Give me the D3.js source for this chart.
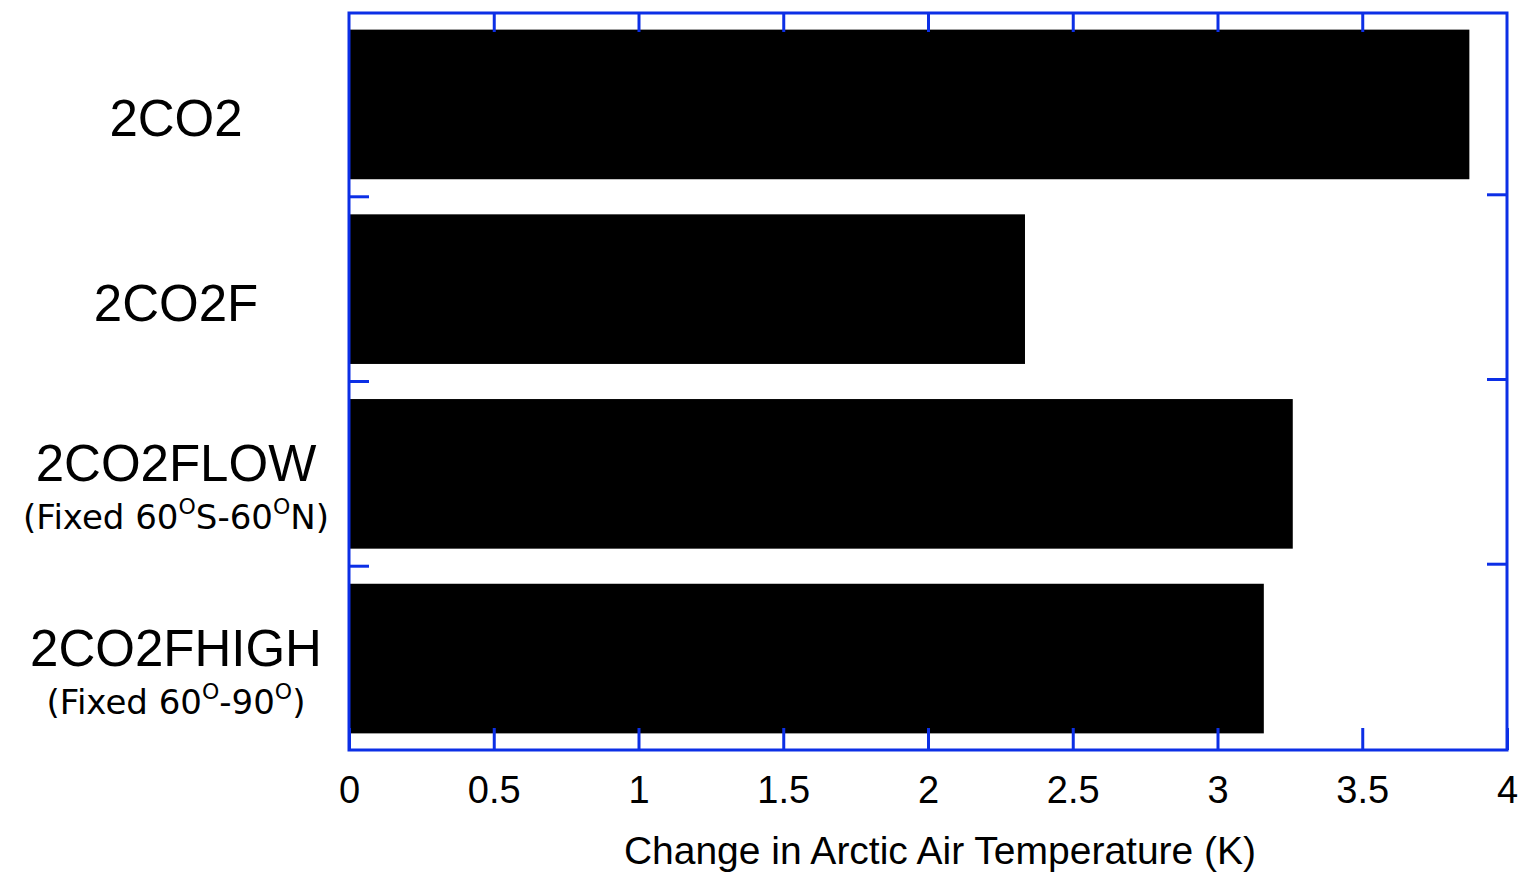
<!DOCTYPE html>
<html>
<head>
<meta charset="utf-8">
<script src="https://cdn.jsdelivr.net/npm/d3@7"></script>
<style>
  body { margin: 0; background: #fff; }
  svg { display: block; }
</style>
</head>
<body>
<script>
// ----- data -----
const categories = ['2CO2', '2CO2F', '2CO2FLOW', '2CO2FHIGH'];
const values = [3.87, 2.335, 3.26, 3.16];
// sub labels: alternating normal / superscript pieces
const subLabels = [
  null,
  null,
  ['(Fixed 60', 'O', 'S-60', 'O', 'N)'],
  ['(Fixed 60', 'O', '-90', 'O', ')']
];
const xTicks = [0, 0.5, 1, 1.5, 2, 2.5, 3, 3.5, 4];
const xTitle = 'Change in Arctic Air Temperature (K)';

const blue = '#0c2fe6';
const W = 1526, H = 874;
const plotLeft = 349, plotRight = 1507, plotTop = 13, plotBottom = 750;

const svg = d3.select('body')
  .append('svg')
  .attr('width', W)
  .attr('height', H);

// scales
const x = d3.scaleLinear().domain([0, 4]).range([plotLeft, plotRight]);
const y = d3.scaleBand()
  .domain(categories)
  .range([plotTop, plotBottom])
  .paddingInner(0.19)
  .paddingOuter(0.09);

// ----- bars -----
svg.selectAll('.bar')
  .data(categories)
  .join('rect')
  .attr('class', 'bar')
  .attr('x', x(0))
  .attr('y', d => y(d))
  .attr('width', (d, i) => x(values[i]) - x(0))
  .attr('height', y.bandwidth())
  .attr('fill', '#000');

// ----- frame -----
svg.append('rect')
  .attr('x', plotLeft)
  .attr('y', plotTop)
  .attr('width', plotRight - plotLeft)
  .attr('height', plotBottom - plotTop)
  .attr('fill', 'none')
  .attr('stroke', blue)
  .attr('stroke-width', 3);

// ----- bottom axis (ticks inward) -----
const xAxis = svg.append('g')
  .attr('transform', `translate(0, ${plotBottom})`)
  .call(d3.axisBottom(x).tickValues(xTicks).tickSize(-22).tickPadding(26)
    .tickFormat(d3.format('')));
xAxis.select('.domain').remove();
xAxis.selectAll('line').attr('stroke', blue).attr('stroke-width', 3);
xAxis.selectAll('text')
  .attr('fill', '#000')
  .style('font-family', '"Liberation Sans", Arial, sans-serif')
  .style('font-size', '38px');

// top axis
const xTop = svg.append('g')
  .attr('transform', `translate(0, ${plotTop})`)
  .call(d3.axisTop(x).tickValues(xTicks.slice(1, -1)).tickSize(-19).tickFormat(''));
xTop.select('.domain').remove();
xTop.selectAll('line').attr('stroke', blue).attr('stroke-width', 3);

// ----- y ticks between bands, left & right -----
const gap = y.step() * y.paddingInner();
const bounds = categories.slice(1).map(c => y(c) - gap / 2);
svg.selectAll('.ytick-l')
  .data(bounds)
  .join('line')
  .attr('x1', plotLeft).attr('x2', plotLeft + 20)
  .attr('y1', d => d).attr('y2', d => d)
  .attr('stroke', blue).attr('stroke-width', 3);
svg.selectAll('.ytick-r')
  .data(bounds)
  .join('line')
  .attr('x1', plotRight - 20).attr('x2', plotRight)
  .attr('y1', d => d - 2).attr('y2', d => d - 2)
  .attr('stroke', blue).attr('stroke-width', 3);

// ----- category labels -----
const labels = svg.selectAll('.cat')
  .data(categories)
  .join('g')
  .attr('class', 'cat')
  .attr('transform', d => `translate(176, ${y(d) + y.bandwidth() / 2})`);

labels.append('text')
  .attr('text-anchor', 'middle')
  .attr('y', (d, i) => subLabels[i] ? 7 : 32)
  .style('font-family', '"Liberation Sans", Arial, sans-serif')
  .style('font-size', '51px')
  .text(d => d);

labels.filter((d, i) => subLabels[i])
  .append('text')
  .attr('text-anchor', 'middle')
  .attr('y', 55)
  .style('font-family', '"DejaVu Sans", sans-serif')
  .style('font-size', '34px')
  .each(function (d) {
    const parts = subLabels[categories.indexOf(d)];
    const t = d3.select(this);
    parts.forEach((p, k) => {
      const sup = k % 2 === 1;
      t.append('tspan')
        .attr('dy', sup ? -15 : (k > 0 ? 15 : 0))
        .style('font-size', sup ? '22px' : '34px')
        .text(p);
    });
  });

// ----- x title -----
svg.append('text')
  .attr('x', 940)
  .attr('y', 864)
  .attr('text-anchor', 'middle')
  .style('font-family', '"Liberation Sans", Arial, sans-serif')
  .style('font-size', '39px')
  .text(xTitle);
</script>
</body>
</html>
